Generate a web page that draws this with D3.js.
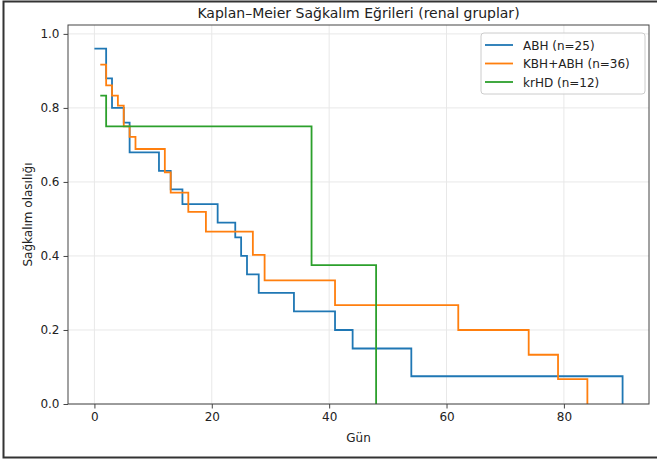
<!DOCTYPE html>
<meta charset="utf-8">
<script src="https://d3js.org/d3.v7.min.js"></script>
<style>
  body { margin: 0; background: #fff; }
  text { font-family: "DejaVu Sans", sans-serif; fill: #222; }
</style>
<div id="chart"></div>
<script>
// survival curves
const abhTimes = [0, 2, 3, 5, 6, 11, 13, 15, 21, 24, 25, 26, 28, 34, 41, 44, 54, 90];
const abhSurv  = [0.96, 0.88, 0.80, 0.76, 0.68, 0.63, 0.58, 0.54, 0.49, 0.45, 0.40, 0.35, 0.30, 0.25, 0.20, 0.15, 0.075, 0];

const kbhTimes = [1, 2, 3, 4, 5, 6, 7, 12, 13, 16, 19, 27, 29, 41, 62, 74, 79, 84];
const kbhSurv  = [0.917, 0.861, 0.833, 0.806, 0.75, 0.722, 0.689, 0.626, 0.571, 0.519, 0.466, 0.403, 0.334, 0.267, 0.20, 0.133, 0.067, 0];

const krhdTimes = [1, 2, 37, 48];
const krhdSurv  = [0.833, 0.75, 0.375, 0];

const seriesNames = ["ABH (n=25)", "KBH+ABH (n=36)", "krHD (n=12)"];
const seriesColors = ["#1f77b4", "#ff7f0e", "#2ca02c"];

const xTicks = [0, 20, 40, 60, 80];
const yTicks = [0, 0.2, 0.4, 0.6, 0.8, 1.0];

const series = [
  { name: seriesNames[0], color: seriesColors[0], pts: abhTimes.map((t, i) => [t, abhSurv[i]]) },
  { name: seriesNames[1], color: seriesColors[1], pts: kbhTimes.map((t, i) => [t, kbhSurv[i]]) },
  { name: seriesNames[2], color: seriesColors[2], pts: krhdTimes.map((t, i) => [t, krhdSurv[i]]) }
];

const W = 657, H = 463;
const margin = { top: 25, right: 8, bottom: 59, left: 68 };
const width = W - margin.left - margin.right;
const height = H - margin.top - margin.bottom;

const svg = d3.select("#chart").append("svg")
  .attr("width", W).attr("height", H);

// outer frame
svg.append("rect")
  .attr("x", 3.5).attr("y", 1.5).attr("width", 700).attr("height", 456)
  .attr("fill", "none").attr("stroke", "#333").attr("stroke-width", 2);

const g = svg.append("g").attr("transform", `translate(${margin.left},${margin.top})`);

const x = d3.scaleLinear().domain([-4.5, 94.5]).range([0, width]);
const y = d3.scaleLinear().domain([0, 1.024]).range([height, 0]);

// grid
g.append("g").selectAll("line").data(xTicks).join("line")
  .attr("x1", d => x(d)).attr("x2", d => x(d)).attr("y1", 0).attr("y2", height)
  .attr("stroke", "#e8e8e8").attr("stroke-width", 1);
g.append("g").selectAll("line").data(yTicks).join("line")
  .attr("x1", 0).attr("x2", width).attr("y1", d => y(d)).attr("y2", d => y(d))
  .attr("stroke", "#e8e8e8").attr("stroke-width", 1);

// curves
const line = d3.line().x(d => x(d[0])).y(d => y(d[1])).curve(d3.curveStepAfter);
g.append("g").selectAll("path").data(series).join("path")
  .attr("d", d => line(d.pts))
  .attr("fill", "none")
  .attr("stroke", d => d.color)
  .attr("stroke-width", 1.8);

// axes
const xAxis = g.append("g").attr("transform", `translate(0,${height})`)
  .call(d3.axisBottom(x).tickValues(xTicks).tickFormat(d3.format("d")).tickSize(4.5).tickPadding(4));
const yAxis = g.append("g")
  .call(d3.axisLeft(y).tickValues(yTicks).tickFormat(d3.format(".1f")).tickSize(4.5).tickPadding(4));
[xAxis, yAxis].forEach(a => {
  a.select(".domain").remove();
  a.selectAll("line").attr("stroke", "#444");
  a.selectAll("text").attr("font-size", 12).attr("font-family", "DejaVu Sans").attr("fill", "#222");
});

// spines
g.append("rect").attr("width", width).attr("height", height)
  .attr("fill", "none").attr("stroke", "#444").attr("stroke-width", 1);

// labels
svg.append("text")
  .attr("x", margin.left + width / 2).attr("y", 18)
  .attr("text-anchor", "middle").attr("font-size", 14)
  .text("Kaplan–Meier Sağkalım Eğrileri (renal gruplar)");
svg.append("text")
  .attr("x", margin.left + width / 2).attr("y", 442)
  .attr("text-anchor", "middle").attr("font-size", 12)
  .text("Gün");
svg.append("text")
  .attr("transform", `translate(32,${margin.top + height / 2}) rotate(-90)`)
  .attr("text-anchor", "middle").attr("font-size", 12)
  .text("Sağkalım olasılığı");

// legend
const lg = svg.append("g").attr("transform", "translate(481,33)");
lg.append("rect").attr("width", 164).attr("height", 61).attr("rx", 3)
  .attr("fill", "#fff").attr("fill-opacity", 0.85).attr("stroke", "#ccc");
series.forEach((s, i) => {
  const yy = 12 + i * 18.5;
  lg.append("line").attr("x1", 4).attr("x2", 32).attr("y1", yy).attr("y2", yy)
    .attr("stroke", s.color).attr("stroke-width", 1.8);
  lg.append("text").attr("x", 42).attr("y", yy + 4.5).attr("font-size", 12).text(s.name);
});
</script>
